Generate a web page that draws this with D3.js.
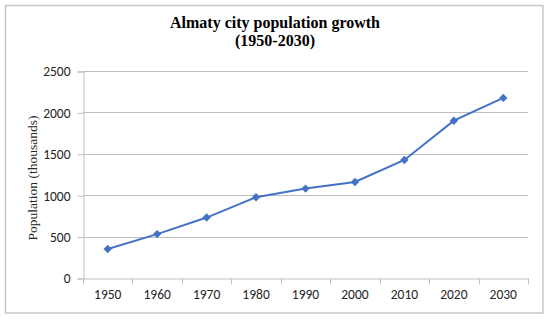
<!DOCTYPE html>
<html>
<head>
<meta charset="utf-8">
<script src="https://cdn.jsdelivr.net/npm/d3@7"></script>
<style>
  body { margin: 0; background: #fff; }
  svg { display: block; }
</style>
</head>
<body>
<svg id="chart" width="550" height="320"></svg>
<script>
// Almaty population, thousands
var years = ["1950", "1960", "1970", "1980", "1990", "2000", "2010", "2020", "2030"];
var population = [350, 530, 730, 975, 1080, 1160, 1425, 1900, 2175];
var yTicks = [0, 500, 1000, 1500, 2000, 2500];

var svg = d3.select("#chart");
var plotLeft = 83, plotRight = 528, plotTop = 71, plotBottom = 278;

var lineColor = "#4472c4";
var gridColor = "#bfbfbf";
var textColor = "#262626";

// outer frame
svg.append("rect")
  .attr("x", 5.5).attr("y", 5.5)
  .attr("width", 537.5).attr("height", 307.5)
  .attr("fill", "#fff").attr("stroke", "#c6c6c6").attr("stroke-width", 1.5);

var x = d3.scaleBand().domain(years).range([plotLeft, plotRight]);
var y = d3.scaleLinear().domain([0, 2500]).range([plotBottom, plotTop]);

// gridlines
svg.append("g")
  .selectAll("line")
  .data(yTicks.slice(1))
  .enter().append("line")
  .attr("x1", plotLeft).attr("x2", plotRight)
  .attr("y1", function(d) { return Math.round(y(d)) + 0.5; })
  .attr("y2", function(d) { return Math.round(y(d)) + 0.5; })
  .attr("stroke", gridColor).attr("stroke-width", 1);

// y axis
var yAxis = svg.append("g")
  .attr("transform", "translate(" + (plotLeft + 0.5) + ",0.5)")
  .call(d3.axisLeft(y).tickValues(yTicks).tickSize(6).tickPadding(7)
    .tickFormat(d3.format("d")));
yAxis.select(".domain").attr("stroke", gridColor);
yAxis.selectAll(".tick line").attr("stroke", gridColor);
yAxis.selectAll(".tick text")
  .attr("font-family", "Carlito, 'Liberation Sans', sans-serif")
  .attr("font-size", 13.5).attr("fill", textColor);

// x axis, ticks on band edges
var xAxis = svg.append("g")
  .attr("transform", "translate(0," + (plotBottom + 0.5) + ")")
  .call(d3.axisBottom(x).tickSize(0).tickPadding(11));
xAxis.select(".domain").attr("stroke", gridColor);
xAxis.selectAll(".tick text")
  .attr("font-family", "Carlito, 'Liberation Sans', sans-serif")
  .attr("font-size", 13.5).attr("fill", textColor);
xAxis.selectAll(".edge")
  .data(years.concat(["end"]))
  .enter().append("line")
  .attr("class", "edge")
  .attr("x1", function(d, i) { return Math.round(plotLeft + i * x.step()) + 0.5; })
  .attr("x2", function(d, i) { return Math.round(plotLeft + i * x.step()) + 0.5; })
  .attr("y1", 0).attr("y2", 6)
  .attr("stroke", gridColor);

// series line
var line = d3.line()
  .x(function(d, i) { return x(years[i]) + x.bandwidth() / 2; })
  .y(function(d) { return y(d); });

svg.append("path")
  .datum(population)
  .attr("d", line)
  .attr("fill", "none")
  .attr("stroke", lineColor)
  .attr("stroke-width", 2);

svg.append("g")
  .selectAll("path")
  .data(population)
  .enter().append("path")
  .attr("d", d3.symbol().type(d3.symbolDiamond2).size(45))
  .attr("transform", function(d, i) {
    return "translate(" + (x(years[i]) + x.bandwidth() / 2) + "," + y(d) + ")";
  })
  .attr("fill", lineColor);

// title
var title = svg.append("text")
  .attr("x", 275).attr("text-anchor", "middle")
  .attr("font-family", "'Liberation Serif', 'Times New Roman', serif")
  .attr("font-weight", "bold").attr("font-size", 16)
  .attr("fill", "#000");
title.append("tspan").attr("x", 275).attr("y", 28).text("Almaty city population growth");
title.append("tspan").attr("x", 275).attr("y", 46).text("(1950-2030)");

// y axis label
svg.append("text")
  .attr("transform", "translate(37,178) rotate(-90)")
  .attr("text-anchor", "middle")
  .attr("font-family", "'Liberation Serif', 'Times New Roman', serif")
  .attr("font-size", 13.5)
  .attr("fill", textColor)
  .text("Population (thousands)");
</script>
</body>
</html>
